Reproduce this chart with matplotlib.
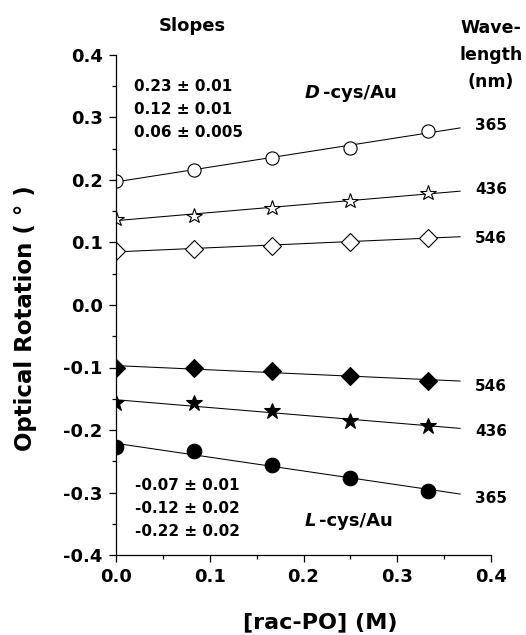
import numpy as np
from matplotlib import pyplot as plt
from matplotlib.ticker import MultipleLocator

# [rac-PO] concentrations (M)
conc = [0.0, 0.0833, 0.1667, 0.25, 0.3333]

# D-cys/Au optical rotation (deg)
d_365 = [0.199, 0.216, 0.235, 0.252, 0.279]
d_436 = [0.138, 0.142, 0.156, 0.167, 0.179]
d_546 = [0.086, 0.090, 0.095, 0.101, 0.108]

# L-cys/Au optical rotation (deg)
l_546 = [-0.100, -0.100, -0.106, -0.114, -0.121]
l_436 = [-0.156, -0.157, -0.170, -0.185, -0.194]
l_365 = [-0.227, -0.234, -0.256, -0.276, -0.298]

d_slopes = ['0.23 \u00b1 0.01', '0.12 \u00b1 0.01', '0.06 \u00b1 0.005']
l_slopes = ['-0.07 \u00b1 0.01', '-0.12 \u00b1 0.02', '-0.22 \u00b1 0.02']
wavelengths = ['365', '436', '546']

plt.rcParams['font.family'] = 'DejaVu Sans'
plt.rcParams['font.weight'] = 'bold'

fig = plt.figure(figsize=(5.26, 6.35), dpi=100)
# spine box: x 116..491 px, y 55..555 px
ax = fig.add_axes([116 / 526, 80 / 635, 375 / 526, 500 / 635])

series = [
    (d_365, dict(marker='o', mfc='white', ms=9.5)),
    (d_436, dict(marker='*', mfc='white', ms=11.5)),
    (d_546, dict(marker='D', mfc='white', ms=9)),
    (l_546, dict(marker='D', mfc='black', ms=9.5)),
    (l_436, dict(marker='*', mfc='black', ms=12)),
    (l_365, dict(marker='o', mfc='black', ms=10.5)),
]
x = np.array(conc)
x_fit = np.array([0.0, 0.367])
for y, style in series:
    # linear fit through each wavelength series
    p = np.polyfit(x, y, 1)
    ax.plot(x_fit, np.polyval(p, x_fit), color='black', lw=0.75, zorder=1)
    ax.plot(x, y, ls='none', mec='black', mew=0.8, zorder=2, **style)

ax.set_xlim(0, 0.4)
ax.set_ylim(-0.4, 0.4)
ax.xaxis.set_major_locator(MultipleLocator(0.1))
ax.xaxis.set_minor_locator(MultipleLocator(0.05))
ax.yaxis.set_major_locator(MultipleLocator(0.1))
ax.yaxis.set_minor_locator(MultipleLocator(0.05))
ax.xaxis.set_major_formatter(lambda v, pos: f'{v:.1f}')
ax.yaxis.set_major_formatter(lambda v, pos: f'{v:.1f}')
for s in ['top', 'right']:
    ax.spines[s].set_visible(False)
for s in ['left', 'bottom']:
    ax.spines[s].set_linewidth(0.9)
ax.tick_params(which='major', direction='out', length=5, width=0.9, labelsize=13, pad=4.5)
ax.tick_params(which='minor', direction='out', length=3, width=0.9)

ax.set_xlabel('[rac-PO] (M)', fontsize=16, fontweight='bold', va='center')
ax.xaxis.set_label_coords((320 - 116) / 375, -(622 - 555) / 500)
ax.set_ylabel('Optical Rotation ( \u00b0 )', fontsize=16.5, fontweight='bold', va='center')
ax.yaxis.set_label_coords((26 - 116) / 375, (555 - 318) / 500)

# slope annotations
for i, s in enumerate(d_slopes):
    ax.text(0.019, 0.350 - i * 0.037, s, fontsize=11, fontweight='bold', va='center')
for i, s in enumerate(l_slopes):
    ax.text(0.020, -0.288 - i * 0.0373, s, fontsize=11, fontweight='bold', va='center')

# sample labels: italic enantiomer letter + bold remainder
for letter, ypos in [('D', 0.340), ('L', -0.345)]:
    t = ax.text(0.2016, ypos, letter, fontsize=13, fontweight='bold', style='italic', va='center')
    ax.annotate('-cys/Au', xy=(1, 0.5), xycoords=t, xytext=(2, 0), textcoords='offset points',
                fontsize=13, fontweight='bold', va='center')

# wavelength labels at the right
d_pos = [0.2875, 0.184, 0.107]
l_pos = [-0.309, -0.203, -0.130]
for w, yd, yl in zip(wavelengths, d_pos, l_pos):
    ax.text(0.383, yd, w, fontsize=11, fontweight='bold', va='center', clip_on=False)
    ax.text(0.383, yl, w, fontsize=11, fontweight='bold', va='center', clip_on=False)

ax.text(0.0814, 0.446, 'Slopes', fontsize=13, fontweight='bold', ha='center', va='center', clip_on=False)
for line, ypos in zip(['Wave-', 'length', '(nm)'], [0.4427, 0.400, 0.3573]):
    ax.text(0.400, ypos, line, fontsize=12.5, fontweight='bold', ha='center', va='center', clip_on=False)

fig.savefig('out.png', dpi=100)
